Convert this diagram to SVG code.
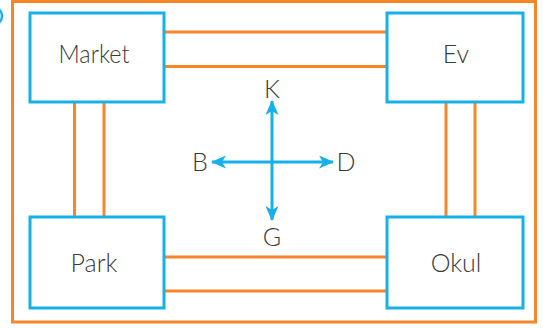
<svg xmlns="http://www.w3.org/2000/svg" width="543" height="328" viewBox="0 0 543 328">
<style>
.box{fill:#fff;stroke:#16b1ea;stroke-width:3}
.road{stroke:#f5862a;stroke-width:3;fill:none}
.lbl{font-family:Lato,"Liberation Sans",sans-serif;font-weight:300;font-size:25px;fill:#3a3a3a;text-anchor:middle}
.dir{stroke:#16b1ea;stroke-width:3;fill:none}
</style>
<defs>
<marker id="ah" viewBox="0 0 15 13" refX="14" refY="6.5" markerWidth="15" markerHeight="13" markerUnits="userSpaceOnUse" orient="auto">
<path d="M0,0 L15,6.5 L0,13 L4,6.5 Z" fill="#16b1ea"/>
</marker>
</defs>
<rect x="0" y="0" width="543" height="328" fill="#fff"/>
<circle cx="-7" cy="16" r="9" fill="none" stroke="#16b1ea" stroke-width="2.5"/>
<rect x="12.5" y="1.5" width="523" height="320.5" class="road"/>
<g id="connectors">
<line class="road" x1="164" y1="32" x2="387" y2="32"/>
<line class="road" x1="164" y1="66.5" x2="387" y2="66.5"/>
<line class="road" x1="164" y1="257" x2="387" y2="257"/>
<line class="road" x1="164" y1="291" x2="387" y2="291"/>
<line class="road" x1="74.5" y1="102" x2="74.5" y2="217"/>
<line class="road" x1="104" y1="102" x2="104" y2="217"/>
<line class="road" x1="446" y1="102" x2="446" y2="217"/>
<line class="road" x1="475" y1="102" x2="475" y2="217"/>
</g>
<g id="market"><rect class="box" x="30" y="13" width="134" height="89"/><text class="lbl" x="94" y="63" textLength="71" lengthAdjust="spacingAndGlyphs">Market</text></g>
<g id="ev"><rect class="box" x="387" y="13" width="136" height="89"/><text class="lbl" x="456" y="63">Ev</text></g>
<g id="park"><rect class="box" x="30" y="217" width="134" height="91"/><text class="lbl" x="94" y="272">Park</text></g>
<g id="okul"><rect class="box" x="387" y="217" width="136" height="91"/><text class="lbl" x="456" y="272">Okul</text></g>
<g id="compass">
<line class="dir" x1="272" y1="162" x2="272" y2="101" marker-end="url(#ah)"/>
<line class="dir" x1="272" y1="162" x2="272" y2="220" marker-end="url(#ah)"/>
<line class="dir" x1="272" y1="162" x2="212" y2="162" marker-end="url(#ah)"/>
<line class="dir" x1="272" y1="162" x2="333" y2="162" marker-end="url(#ah)"/>
<text class="lbl" x="272" y="98">K</text>
<text class="lbl" x="200" y="171">B</text>
<text class="lbl" x="346" y="171">D</text>
<text class="lbl" x="272" y="246">G</text>
</g>
</svg>
